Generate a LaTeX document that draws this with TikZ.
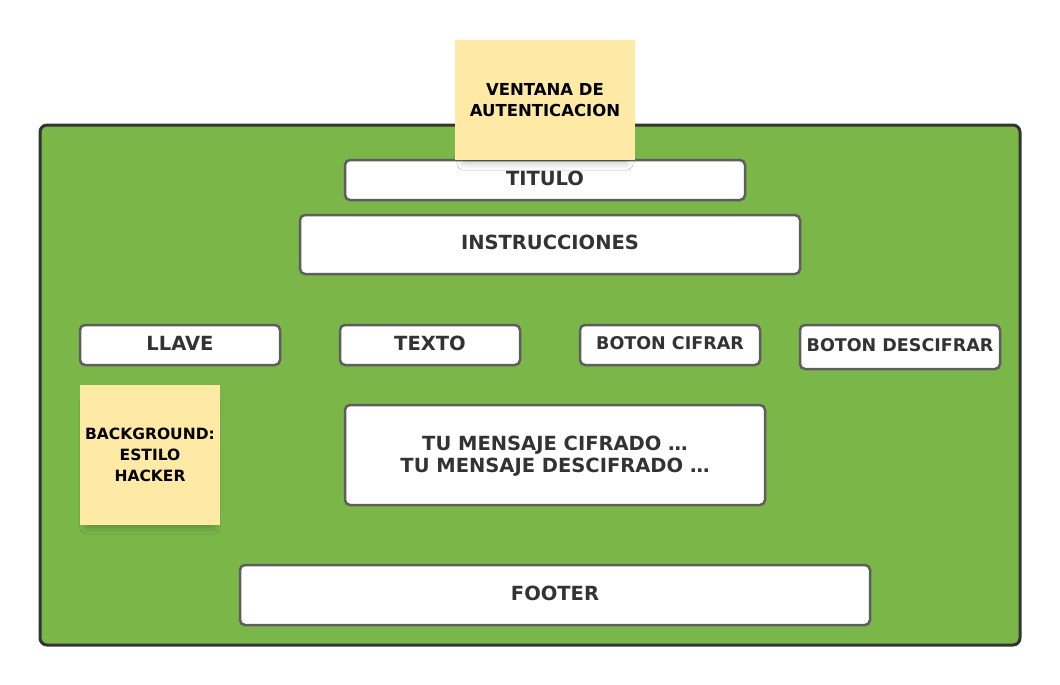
\documentclass[tikz,border=0pt]{standalone}
\usepackage{fontspec}
\setmainfont{DejaVu Sans}
\usetikzlibrary{shadows.blur}
\definecolor{bggreen}{HTML}{7AB648}
\definecolor{frame}{HTML}{333333}
\definecolor{boxline}{HTML}{5E5E5E}
\definecolor{sticky}{HTML}{FEE9A5}
\definecolor{txt}{HTML}{333333}
\tikzset{
  uibox/.style={draw=boxline, line width=2.5pt, fill=white, rounded corners=5pt,
    text=txt, font=\fontsize{19.5}{22}\selectfont\bfseries, align=center, text depth=4pt},
  note/.style={fill=sticky, text=black, font=\fontsize{16.5}{21}\selectfont\bfseries,
    align=center, blur shadow={shadow xshift=0pt, shadow yshift=-10pt, shadow opacity=25, shadow blur radius=8pt, shadow scale=0.9}},
}
\begin{document}
\begin{tikzpicture}[x=1pt,y=-1pt]
\useasboundingbox (0,0) rectangle (1060,685);
% outer panel
\draw[draw=frame, fill=bggreen, line width=3pt, rounded corners=7pt] (40,125) rectangle (1020,645);
% boxes
\node[uibox, minimum width=400pt, minimum height=40pt] (titulo) at (545,180) {TITULO};
\node[uibox, minimum width=500pt, minimum height=59pt] (instr) at (550,244.5) {INSTRUCCIONES};
\node[uibox, minimum width=200pt, minimum height=40pt] (llave) at (180,345) {LLAVE};
\node[uibox, minimum width=180pt, minimum height=40pt] (texto) at (430,345) {TEXTO};
\node[uibox, minimum width=180pt, minimum height=40pt, inner xsep=2pt, font=\fontsize{17.5}{20}\selectfont\bfseries] (cifrar) at (670,345) {BOTON CIFRAR};
\node[uibox, minimum width=200pt, minimum height=44pt, inner xsep=1pt, font=\fontsize{17.5}{20}\selectfont\bfseries] (descifrar) at (900,347) {BOTON DESCIFRAR};
\node[uibox, minimum width=420pt, minimum height=100pt, text depth=1pt] (mensaje) at (555,455) {TU MENSAJE CIFRADO …\\TU MENSAJE DESCIFRADO …};
\node[uibox, minimum width=630pt, minimum height=60pt] (footer) at (555,595) {FOOTER};
% sticky notes
\node[note, minimum width=180pt, minimum height=120pt] (ventana) at (545,100) {VENTANA DE\\AUTENTICACION};
\node[note, minimum width=140pt, minimum height=140pt, inner xsep=0pt, font=\fontsize{15.5}{21}\selectfont\bfseries] (bgnote) at (150,455) {BACKGROUND:\\ESTILO\\HACKER};
\end{tikzpicture}
\end{document}
